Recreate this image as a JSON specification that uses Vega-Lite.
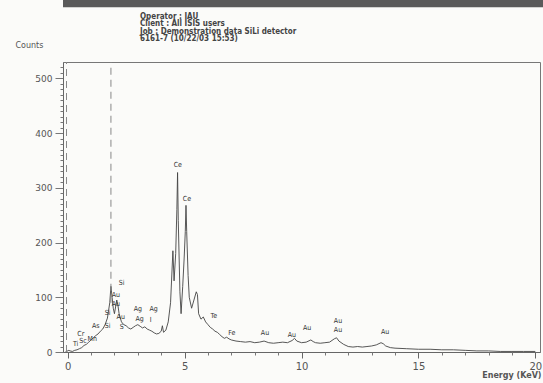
{
  "$schema": "https://vega.github.io/schema/vega-lite/v6.json",
  "width": 477,
  "height": 290,
  "autosize": {"type": "none"},
  "padding": {"left": 63, "top": 62, "right": 3, "bottom": 31},
  "background": "#fbfbf9",
  "config": {"view": {"stroke": "#777", "strokeWidth": 1}, "font": "DejaVu Sans", "axis": {"grid": false}},
  "title": {
    "text": ["Operator : IAU", "Client : All ISIS users", "Job : Demonstration data SiLi detector", "6161-7 (10/22/03 15:53)"],
    "anchor": "start",
    "frame": "group",
    "dx": 77,
    "offset": -44,
    "font": "DejaVu Sans Condensed",
    "fontSize": 8,
    "lineHeight": 7.5,
    "fontWeight": "bold",
    "color": "#444"
  },
  "datasets": {
    "spectrum": [
      {"e": -0.1, "c": 0}, {"e": 0.05, "c": 3}, {"e": 0.1, "c": 2}, {"e": 0.2, "c": 1},
      {"e": 0.3, "c": 3}, {"e": 0.4, "c": 4}, {"e": 0.5, "c": 6}, {"e": 0.6, "c": 8}, {"e": 0.7, "c": 12},
      {"e": 0.8, "c": 14}, {"e": 0.9, "c": 18}, {"e": 1.0, "c": 22}, {"e": 1.1, "c": 26}, {"e": 1.2, "c": 30},
      {"e": 1.3, "c": 33}, {"e": 1.4, "c": 38}, {"e": 1.5, "c": 42}, {"e": 1.6, "c": 50}, {"e": 1.7, "c": 62},
      {"e": 1.8, "c": 90}, {"e": 1.85, "c": 120}, {"e": 1.9, "c": 100}, {"e": 1.95, "c": 80}, {"e": 2.0, "c": 70},
      {"e": 2.1, "c": 95}, {"e": 2.15, "c": 85}, {"e": 2.2, "c": 70}, {"e": 2.3, "c": 55}, {"e": 2.4, "c": 50},
      {"e": 2.5, "c": 48}, {"e": 2.6, "c": 44}, {"e": 2.7, "c": 42}, {"e": 2.8, "c": 45}, {"e": 2.9, "c": 48},
      {"e": 3.0, "c": 50}, {"e": 3.1, "c": 47}, {"e": 3.2, "c": 44}, {"e": 3.3, "c": 46}, {"e": 3.4, "c": 42},
      {"e": 3.5, "c": 40}, {"e": 3.6, "c": 38}, {"e": 3.7, "c": 35}, {"e": 3.8, "c": 33}, {"e": 3.9, "c": 34},
      {"e": 4.0, "c": 38}, {"e": 4.05, "c": 48}, {"e": 4.1, "c": 36}, {"e": 4.2, "c": 40}, {"e": 4.3, "c": 55},
      {"e": 4.4, "c": 90}, {"e": 4.5, "c": 185}, {"e": 4.55, "c": 130}, {"e": 4.62, "c": 180}, {"e": 4.67, "c": 260},
      {"e": 4.7, "c": 328}, {"e": 4.73, "c": 240}, {"e": 4.8, "c": 110}, {"e": 4.85, "c": 70}, {"e": 4.92, "c": 120},
      {"e": 4.98, "c": 170}, {"e": 5.03, "c": 220}, {"e": 5.06, "c": 268}, {"e": 5.09, "c": 220}, {"e": 5.15, "c": 140},
      {"e": 5.2, "c": 100}, {"e": 5.3, "c": 80}, {"e": 5.4, "c": 95}, {"e": 5.5, "c": 110}, {"e": 5.55, "c": 105},
      {"e": 5.6, "c": 70}, {"e": 5.7, "c": 60}, {"e": 5.8, "c": 64}, {"e": 5.9, "c": 55}, {"e": 6.0, "c": 50},
      {"e": 6.1, "c": 45}, {"e": 6.2, "c": 42}, {"e": 6.3, "c": 38}, {"e": 6.4, "c": 36}, {"e": 6.5, "c": 32},
      {"e": 6.6, "c": 28}, {"e": 6.7, "c": 25}, {"e": 6.8, "c": 27}, {"e": 6.9, "c": 24}, {"e": 7.0, "c": 22},
      {"e": 7.2, "c": 20}, {"e": 7.4, "c": 19}, {"e": 7.6, "c": 18}, {"e": 7.8, "c": 19}, {"e": 8.0, "c": 17},
      {"e": 8.2, "c": 18}, {"e": 8.4, "c": 20}, {"e": 8.6, "c": 17}, {"e": 8.8, "c": 16}, {"e": 9.0, "c": 17},
      {"e": 9.2, "c": 18}, {"e": 9.4, "c": 17}, {"e": 9.6, "c": 21}, {"e": 9.7, "c": 25}, {"e": 9.8, "c": 20},
      {"e": 10.0, "c": 17}, {"e": 10.2, "c": 18}, {"e": 10.4, "c": 22}, {"e": 10.5, "c": 19}, {"e": 10.6, "c": 17},
      {"e": 10.8, "c": 16}, {"e": 11.0, "c": 17}, {"e": 11.2, "c": 18}, {"e": 11.4, "c": 24}, {"e": 11.5, "c": 26},
      {"e": 11.6, "c": 20}, {"e": 11.8, "c": 14}, {"e": 12.0, "c": 10}, {"e": 12.2, "c": 9}, {"e": 12.4, "c": 10},
      {"e": 12.6, "c": 9}, {"e": 12.8, "c": 10}, {"e": 13.0, "c": 11}, {"e": 13.2, "c": 13}, {"e": 13.4, "c": 17},
      {"e": 13.5, "c": 15}, {"e": 13.6, "c": 11}, {"e": 13.8, "c": 8}, {"e": 14.0, "c": 7}, {"e": 14.5, "c": 6},
      {"e": 15.0, "c": 5}, {"e": 15.5, "c": 5}, {"e": 16.0, "c": 4}, {"e": 16.5, "c": 4}, {"e": 17.0, "c": 3},
      {"e": 17.5, "c": 2}, {"e": 18.0, "c": 2}, {"e": 18.5, "c": 1}, {"e": 19.0, "c": 1}, {"e": 19.5, "c": 1},
      {"e": 20.0, "c": 1}
    ],
    "spikes": [
      {"e": -0.05, "c0": 0, "c": 600},
      {"e": 1.85, "c0": 90, "c": 600}
    ],
    "labels": [
      {"e": 0.34, "c": 15, "t": "Ti"}, {"e": 0.66, "c": 20, "t": "Sc"}, {"e": 1.05, "c": 23, "t": "Mn"},
      {"e": 0.56, "c": 33, "t": "Cr"}, {"e": 1.2, "c": 47, "t": "As"}, {"e": 1.71, "c": 47, "t": "Si"},
      {"e": 1.71, "c": 71, "t": "Si"}, {"e": 2.06, "c": 88, "t": "Au"}, {"e": 2.06, "c": 104, "t": "Au"},
      {"e": 2.31, "c": 126, "t": "Si"}, {"e": 2.27, "c": 64, "t": "Au"}, {"e": 2.31, "c": 46, "t": "S"},
      {"e": 3.0, "c": 78, "t": "Ag"}, {"e": 3.68, "c": 78, "t": "Ag"}, {"e": 3.08, "c": 60, "t": "Ag"},
      {"e": 3.55, "c": 58, "t": "I"}, {"e": 4.71, "c": 341, "t": "Ce"}, {"e": 5.1, "c": 279, "t": "Ce"},
      {"e": 6.25, "c": 66, "t": "Te"}, {"e": 7.02, "c": 35, "t": "Fe"}, {"e": 8.44, "c": 35, "t": "Au"},
      {"e": 9.59, "c": 31, "t": "Au"}, {"e": 10.24, "c": 44, "t": "Au"}, {"e": 11.56, "c": 57, "t": "Au"},
      {"e": 11.56, "c": 40, "t": "Au"}, {"e": 13.58, "c": 36, "t": "Au"}
    ]
  },
  "layer": [
    {
      "layer": [
        {
          "data": {"name": "spectrum"},
          "mark": {"type": "line", "color": "#444", "strokeWidth": 0.9, "clip": true},
          "encoding": {
            "x": {
              "field": "e", "type": "quantitative",
              "scale": {"domain": [-0.2, 20.2], "nice": false, "zero": false},
              "axis": {
                "orient": "bottom",
                "title": "Energy (KeV)", "titleAlign": "right", "titleX": 478, "titleY": 23, "titleBaseline": "middle",
                "titleFontSize": 8, "titleFontWeight": "bold", "titleColor": "#555",
                "values": [0, 5, 10, 15, 20],
                "labelFontSize": 10, "labelColor": "#555", "labelPadding": 3,
                "tickSize": 6, "tickColor": "#666", "domainColor": "#666", "grid": false
              }
            },
            "y": {
              "field": "c", "type": "quantitative",
              "scale": {"domain": [0, 530], "nice": false},
              "axis": {
                "orient": "left",
                "title": "Counts", "titleAngle": 0, "titleAlign": "left", "titleX": -48, "titleY": -17, "titleBaseline": "middle",
                "titleFontSize": 8, "titleFontWeight": "normal", "titleColor": "#555",
                "values": [0, 100, 200, 300, 400, 500],
                "labelFontSize": 9, "labelColor": "#555", "labelPadding": 3,
                "tickSize": 8, "tickColor": "#777", "domainColor": "#666", "grid": false
              }
            }
          }
        },
        {
          "data": {"name": "spikes"},
          "mark": {"type": "rule", "color": "#888", "strokeWidth": 1, "strokeDash": [7, 5], "clip": true},
          "encoding": {
            "x": {"field": "e", "type": "quantitative"},
            "y": {"field": "c0", "type": "quantitative"},
            "y2": {"field": "c"}
          }
        },
        {
          "data": {"values": [{}]},
          "mark": {"type": "rect", "color": "#5a5a5a", "clip": false},
          "encoding": {
            "x": {"datum": -0.2, "type": "quantitative"},
            "x2": {"datum": 20.4},
            "y": {"datum": 630, "type": "quantitative"},
            "y2": {"datum": 645}
          }
        },
        {
          "data": {"name": "labels"},
          "mark": {"type": "text", "font": "DejaVu Sans Condensed", "fontSize": 7, "color": "#333"},
          "encoding": {
            "x": {"field": "e", "type": "quantitative"},
            "y": {"field": "c", "type": "quantitative"},
            "text": {"field": "t"}
          }
        }
      ]
    },
    {
      "data": {"name": "spectrum"},
      "mark": {"type": "point", "opacity": 0},
      "encoding": {
        "x": {
          "field": "e", "type": "quantitative",
          "scale": {"domain": [-0.2, 20.2], "nice": false, "zero": false},
          "axis": {
            "orient": "bottom", "title": null, "labels": false, "domain": false,
            "values": [1, 2, 3, 4, 6, 7, 8, 9, 11, 12, 13, 14, 16, 17, 18, 19],
            "tickSize": 3, "tickColor": "#777", "grid": false
          }
        },
        "y": {
          "field": "c", "type": "quantitative",
          "scale": {"domain": [0, 530], "nice": false},
          "axis": {
            "orient": "left", "title": null, "labels": false, "domain": false,
            "values": [10, 20, 30, 40, 50, 60, 70, 80, 90, 110, 120, 130, 140, 150, 160, 170, 180, 190, 210, 220, 230, 240, 250, 260, 270, 280, 290, 310, 320, 330, 340, 350, 360, 370, 380, 390, 410, 420, 430, 440, 450, 460, 470, 480, 490, 510, 520],
            "tickSize": 3, "tickColor": "#777", "grid": false
          }
        }
      }
    }
  ],
  "resolve": {"scale": {"x": "independent", "y": "independent"}, "axis": {"x": "independent", "y": "independent"}}
}
